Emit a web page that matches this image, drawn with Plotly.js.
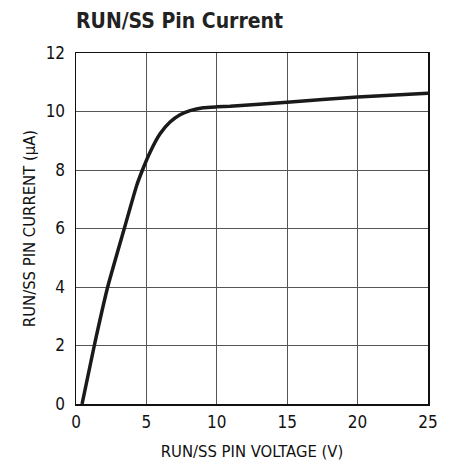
<!DOCTYPE html>
<html><head><meta charset="utf-8">
<script src="https://cdn.plot.ly/plotly-3.0.1.min.js"></script>
<style>html,body{margin:0;padding:0;background:#fff}#chart{width:451px;height:466px}</style>
</head><body><div id="chart"></div>
<script>
const voltage = [0.43, 1.3, 2.25, 3.43, 4.31, 4.72, 5.26, 5.97, 6.68, 7.39, 8.1, 9.04, 10.0, 10.94, 15.0, 20.0, 25.0];
const current = [0.0, 2.0, 4.0, 6.0, 7.47, 8.0, 8.61, 9.24, 9.64, 9.89, 10.03, 10.13, 10.16, 10.18, 10.32, 10.5, 10.62];
const xTicks = [0, 5, 10, 15, 20, 25];
const yTicks = [0, 2, 4, 6, 8, 10, 12];
const font = "'DejaVu Sans Condensed', 'Liberation Sans Narrow', 'Liberation Sans', Arial, sans-serif";

Plotly.newPlot('chart', [{
  x: voltage, y: current, type: 'scatter', mode: 'lines',
  line: {color: '#1a1a1a', width: 3.5, shape: 'spline', smoothing: 0.5},
  hoverinfo: 'skip'
}], {
  width: 451, height: 466,
  margin: {l: 76, r: 23, t: 52.5, b: 62},
  paper_bgcolor: '#fff', plot_bgcolor: '#fff',
  showlegend: false,
  font: {family: font, color: '#111', size: 17},
  title: {text: '<b>RUN/SS Pin Current</b>', x: 76/451, xanchor: 'left', y: 0.955, yanchor: 'middle',
          font: {family: font, size: 21, color: '#222'}},
  xaxis: {range: [0, 25], tickvals: xTicks, ticktext: xTicks.map(String), ticks: '',
          showgrid: true, gridcolor: '#555', gridwidth: 1, zeroline: false,
          showline: true, linecolor: '#111', linewidth: 1.5, mirror: true,
          tickfont: {size: 17}, ticklabelstandoff: 2,
          title: {text: 'RUN/SS PIN VOLTAGE (V)', font: {size: 16.5}, standoff: 14}},
  yaxis: {range: [0, 12], tickvals: yTicks, ticktext: yTicks.map(String), ticks: '',
          showgrid: true, gridcolor: '#555', gridwidth: 1, zeroline: false,
          showline: true, linecolor: '#111', linewidth: 1.5, mirror: true,
          tickfont: {size: 17}, ticklabelstandoff: 6,
          title: {text: 'RUN/SS PIN CURRENT (µA)', font: {size: 16.5}, standoff: 6}}
}, {staticPlot: true, displayModeBar: false});
</script></body></html>
